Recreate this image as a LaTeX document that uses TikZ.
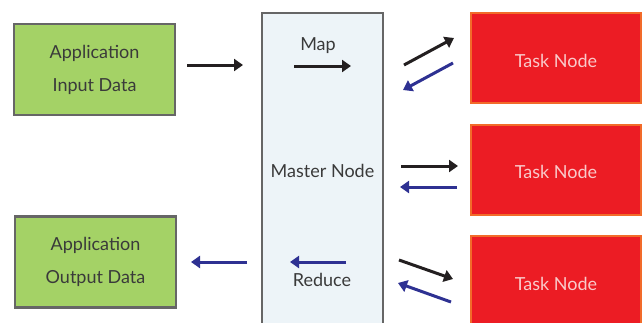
\documentclass[tikz,border=0pt]{standalone}
\usepackage{fontspec}
\setmainfont{Lato}
\usetikzlibrary{arrows.meta}

\definecolor{appgreen}{HTML}{A4D266}
\definecolor{boxgray}{HTML}{666666}
\definecolor{textgray}{HTML}{3A3A3A}
\definecolor{masterblue}{HTML}{EDF4F8}
\definecolor{taskred}{HTML}{EC1C24}
\definecolor{taskorange}{HTML}{F26B2A}
\definecolor{tasktext}{HTML}{F9CACA}
\definecolor{arrowblue}{HTML}{2E3192}
\definecolor{arrowblack}{HTML}{231F20}

\begin{document}
\begin{tikzpicture}[x=1pt,y=-1pt,
    data_node/.style={rectangle,draw=boxgray,line width=2.5pt,fill=appgreen,minimum width=161pt,minimum height=91pt,align=center,text=textgray,font=\fontsize{18}{33}\selectfont},
    master_node/.style={rectangle,draw=boxgray,line width=2.5pt,fill=masterblue,minimum width=121pt,minimum height=316pt,text=textgray,font=\fontsize{18}{20}\selectfont},
    task_node/.style={rectangle,draw=taskorange,line width=2pt,fill=taskred,minimum width=170pt,minimum height=90pt,text=tasktext,text height=18pt,text depth=0pt,font=\fontsize{18}{20}\selectfont},
    label_node/.style={text=textgray,font=\fontsize{18}{20}\selectfont},
    fwd/.style={draw=arrowblack,line width=3pt,-{Triangle[length=9pt,width=12pt]}},
    bwd/.style={draw=arrowblue,line width=3pt,-{Triangle[length=9pt,width=12pt]}}]
    \useasboundingbox (0,0) rectangle (642,322);
    \clip (0,0) rectangle (642,322);

    \node[data_node] (input) at (94.5,69.5) {Application\\Input Data};
    \node[data_node] (output) at (95.5,262) {Application\\Output Data};
    \node[master_node] (master) at (322.5,171) {Master Node};
    \node[task_node] (task1) at (556,58) {Task Node};
    \node[task_node] (task2) at (556,169.5) {Task Node};
    \node[task_node] (task3) at (556,281) {Task Node};
    \node[label_node] (map) at (318,46) {Map};
    \node[label_node] (reduce) at (322,280) {Reduce};

    % arrow ends
    \coordinate (in_a) at (187,65);   \coordinate (in_b) at (243,65);
    \coordinate (out_a) at (247,262); \coordinate (out_b) at (191,262);
    \coordinate (map_a) at (294,66);  \coordinate (map_b) at (351,66);
    \coordinate (red_a) at (346,262); \coordinate (red_b) at (290,262);
    \coordinate (t1_a) at (404,65);   \coordinate (t1_b) at (454,38);
    \coordinate (t1_c) at (453,63);   \coordinate (t1_d) at (403,90);
    \coordinate (t2_a) at (401,166);  \coordinate (t2_b) at (458,166);
    \coordinate (t2_c) at (457,187);  \coordinate (t2_d) at (400,187);
    \coordinate (t3_a) at (399,260);  \coordinate (t3_b) at (453,279);
    \coordinate (t3_c) at (451,302);  \coordinate (t3_d) at (398,283);

    \draw[fwd] (in_a) -- (in_b);
    \draw[bwd] (out_a) -- (out_b);
    \draw[fwd] (map_a) -- (map_b);
    \draw[bwd] (red_a) -- (red_b);
    \draw[fwd] (t1_a) -- (t1_b);
    \draw[bwd] (t1_c) -- (t1_d);
    \draw[fwd] (t2_a) -- (t2_b);
    \draw[bwd] (t2_c) -- (t2_d);
    \draw[fwd] (t3_a) -- (t3_b);
    \draw[bwd] (t3_c) -- (t3_d);
\end{tikzpicture}
\end{document}
